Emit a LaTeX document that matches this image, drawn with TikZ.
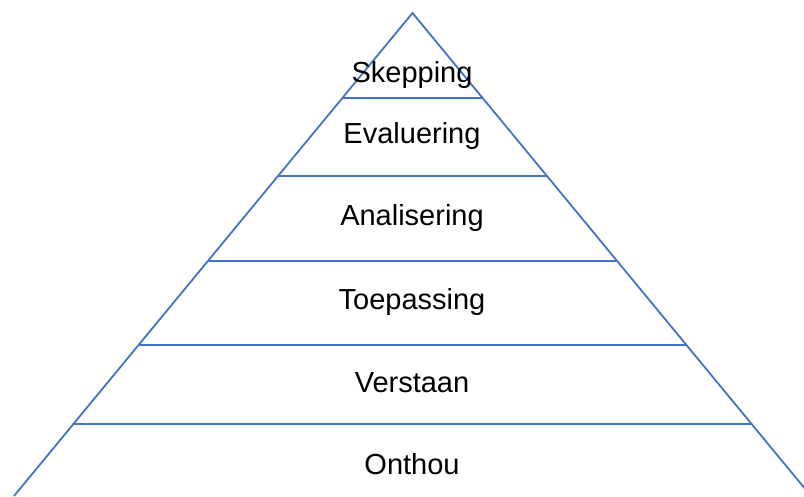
\documentclass[tikz,border=0pt]{standalone}
\usepackage{fontspec}
\setmainfont{Liberation Sans}
\definecolor{pyrblue}{RGB}{68,114,196}
\begin{document}
\begin{tikzpicture}[x=1pt,y=-1pt,
  edge/.style={draw=pyrblue,line width=1.8pt},
  lbl/.style={font=\fontsize{29}{34}\selectfont,text=black,inner sep=0pt}]
\useasboundingbox (0,0) rectangle (804,496);
\begin{scope}
\clip (0,0) rectangle (804,496);
\coordinate (apex) at (412.5,13);
\coordinate (bl) at (14,496);
\coordinate (br) at (811,496);
\draw[edge] (bl) -- (apex) -- (br);
\foreach \y/\n in {98/a,176/b,261/c,345/d,424/e}{
  \pgfmathsetmacro{\dx}{(\y-13)*0.825}
  \coordinate (l\n) at (412.5-\dx,\y);
  \coordinate (r\n) at (412.5+\dx,\y);
  \draw[edge] (l\n) -- (r\n);
}
\end{scope}
\node[lbl] (t1) at (412,75) {Skepping};
\node[lbl] (t2) at (412,136) {Evaluering};
\node[lbl] (t3) at (412,218) {Analisering};
\node[lbl] (t4) at (412,302) {Toepassing};
\node[lbl] (t5) at (412,383) {Verstaan};
\node[lbl] (t6) at (412,464) {Onthou};
\end{tikzpicture}
\end{document}
